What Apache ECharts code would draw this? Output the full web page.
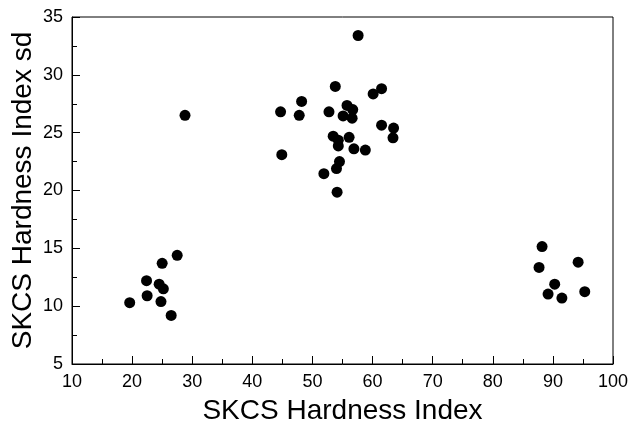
<!DOCTYPE html>
<html>
<head>
<meta charset="utf-8">
<script src="https://cdn.jsdelivr.net/npm/echarts@6/dist/echarts.min.js"></script>
<style>
html,body{margin:0;padding:0;background:#fff;}
#chart{width:633px;height:423px;}
</style>
</head>
<body>
<div id="chart"></div>
<script>
// SKCS Hardness Index (x) vs SKCS Hardness Index sd (y)
const hardnessIndex = [
  19.6, 22.4, 22.5, 24.5, 24.8, 25.2, 25.0, 27.5, 26.5,
  28.8,
  57.6, 53.8, 61.5, 60.1, 48.2, 44.7, 47.8, 52.75, 55.75, 56.7, 55.1, 56.6,
  61.5, 63.5, 63.4, 53.45, 54.3, 54.3, 56.1, 56.9, 58.8, 44.9, 54.5, 54.0, 51.9, 54.1,
  88.2, 87.7, 94.2, 90.3, 89.2, 91.5, 95.3
];
const hardnessSd = [
  10.3, 12.2, 10.9, 11.9, 10.4, 11.5, 13.7, 14.4, 9.2,
  26.5,
  33.4, 29.0, 28.8, 28.35, 27.7, 26.8, 26.5, 26.8, 27.35, 27.0, 26.45, 26.25,
  25.65, 25.4, 24.55, 24.7, 24.35, 23.85, 24.6, 23.6, 23.5, 23.1, 22.5, 21.9, 21.45, 19.85,
  15.15, 13.35, 13.8, 11.9, 11.05, 10.7, 11.25
];
const xTitle = 'SKCS Hardness Index';
const yTitle = 'SKCS Hardness Index sd';

const points = hardnessIndex.map((x, i) => [x, hardnessSd[i]]);
const font = '"Liberation Sans", Arial, Helvetica, sans-serif';

const chart = echarts.init(document.getElementById('chart'), null, {renderer: 'canvas'});
chart.setOption({
  animation: false,
  backgroundColor: '#fff',
  grid: {left: 72, right: 20, top: 17, bottom: 59, containLabel: false, outerBoundsMode: 'none',
         show: true, borderColor: '#000', borderWidth: 1, backgroundColor: 'transparent'},
  xAxis: {
    type: 'value', min: 10, max: 100, interval: 10,
    name: xTitle, nameLocation: 'middle', nameGap: 33, nameMoveOverlap: false,
    nameTextStyle: {fontFamily: font, fontSize: 28, color: '#000'},
    axisLine: {show: true, lineStyle: {color: '#000', width: 1}},
    axisTick: {show: true, inside: true, length: 8, lineStyle: {color: '#000'}},
    minorTick: {show: true, splitNumber: 2, length: 5, lineStyle: {color: '#000'}},
    axisLabel: {fontFamily: font, fontSize: 18, color: '#000', margin: 9},
    splitLine: {show: false}
  },
  yAxis: {
    type: 'value', min: 5, max: 35, interval: 5,
    name: yTitle, nameLocation: 'middle', nameGap: 35, nameMoveOverlap: false,
    nameTextStyle: {fontFamily: font, fontSize: 28, color: '#000'},
    axisLine: {show: true, lineStyle: {color: '#000', width: 1}},
    axisTick: {show: true, inside: true, length: 8, lineStyle: {color: '#000'}},
    minorTick: {show: true, splitNumber: 2, length: 5, lineStyle: {color: '#000'}},
    axisLabel: {fontFamily: font, fontSize: 18, color: '#000', margin: 9},
    splitLine: {show: false}
  },
  series: [{
    type: 'scatter',
    data: points,
    symbol: 'circle',
    symbolSize: 11,
    itemStyle: {color: '#000', opacity: 1}
  }]
});
</script>
</body>
</html>
